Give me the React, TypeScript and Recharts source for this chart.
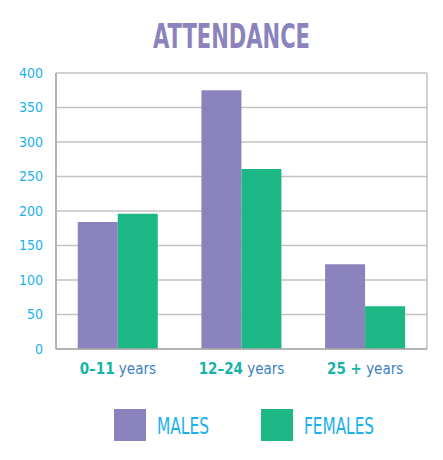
import React from 'react'
import {
  BarChart,
  Bar,
  XAxis,
  YAxis,
  CartesianGrid,
  Legend,
} from 'recharts'

const ageRanges = ['0–11', '12–24', '25 +']
const unitLabel = 'years'
const males = [184, 375, 123]
const females = [196, 261, 62]
const yTicks = [0, 50, 100, 150, 200, 250, 300, 350, 400]

const PURPLE = '#8b83bd'
const GREEN = '#1cb784'
const CYAN = '#1bb1ec'
const TEAL = '#17b3a8'
const BLUE = '#3c7fc2'
const GRID = '#c2c2c2'
const FONT = '"Liberation Sans Narrow", "DejaVu Sans Condensed", "Open Sans", sans-serif'

const data = ageRanges.map((range, i) => ({
  range,
  males: males[i],
  females: females[i],
}))

// legend slots: x of the swatch and width of the label, in series order
const legendSlots: Record<string, { x: number; w: number }> = {
  males: { x: 114, w: 52 },
  females: { x: 261, w: 70 },
}

function AgeTick({ x, y, payload }: any) {
  return (
    <text x={x} y={y + 17} textAnchor="middle" fontFamily={FONT} fontSize={15}>
      <tspan fill={TEAL} fontWeight="bold">{payload.value}</tspan>
      <tspan fill={BLUE}> {unitLabel}</tspan>
    </text>
  )
}

function LegendBox({ payload }: any) {
  const items = payload || []
  return (
    <div style={{ height: 71, position: 'relative' }}>
      <svg width={443} height={71} style={{ position: 'absolute', left: 0, top: 0 }}>
        {items.map((it: any) => {
          const slot = legendSlots[it.dataKey] || { x: 114, w: 52 }
          return (
            <g key={it.dataKey}>
              <rect x={slot.x} y={30} width={32} height={32} fill={it.color} />
              <text
                x={slot.x + 43}
                y={55}
                fill={CYAN}
                fontFamily={FONT}
                fontSize={23}
                textLength={slot.w}
                lengthAdjust="spacingAndGlyphs"
              >
                {it.value}
              </text>
            </g>
          )
        })}
      </svg>
    </div>
  )
}

export default function App() {
  return (
    <div style={{ position: 'absolute', left: 0, top: 0, width: 443, height: 460, background: '#fff' }}>
      <svg width={443} height={60} style={{ position: 'absolute', left: 0, top: 0 }}>
        <text
          x={231.5}
          y={48}
          textAnchor="middle"
          fill={PURPLE}
          fontFamily={FONT}
          fontWeight="bold"
          fontSize={34}
          textLength={157}
          lengthAdjust="spacingAndGlyphs"
        >
          ATTENDANCE
        </text>
      </svg>
      <BarChart
        width={443}
        height={460}
        data={data}
        margin={{ top: 73, right: 16, left: 0, bottom: 10 }}
        barCategoryGap="17.6%"
        barGap={0}
      >
        <CartesianGrid
          stroke={GRID}
          strokeWidth={1.5}
          verticalCoordinatesGenerator={({ offset }: any) => [offset.left, offset.left + offset.width]}
        />
        <XAxis
          dataKey="range"
          height={30}
          axisLine={{ stroke: '#aaaaaa', strokeWidth: 1.5 }}
          tickLine={false}
          tick={<AgeTick />}
          interval={0}
        />
        <YAxis
          width={56}
          domain={[0, 400]}
          ticks={yTicks}
          axisLine={{ stroke: '#aaaaaa', strokeWidth: 1.5 }}
          tickLine={false}
          tickSize={6}
          tickMargin={7}
          tick={{ fill: CYAN, fontSize: 14, fontFamily: FONT }}
        />
        <Legend verticalAlign="bottom" content={<LegendBox />} />
        <Bar dataKey="males" name="MALES" fill={PURPLE} isAnimationActive={false} />
        <Bar dataKey="females" name="FEMALES" fill={GREEN} isAnimationActive={false} />
      </BarChart>
    </div>
  )
}
